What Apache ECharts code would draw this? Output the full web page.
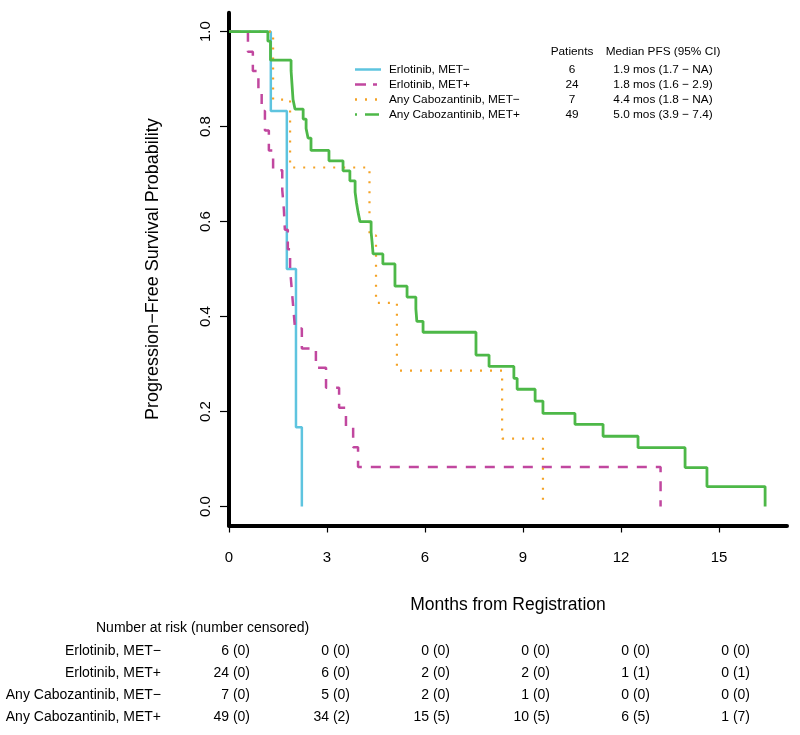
<!DOCTYPE html>
<html><head><meta charset="utf-8">
<script src="https://cdn.jsdelivr.net/npm/echarts@6/dist/echarts.min.js"></script>
<style>html,body{margin:0;padding:0;background:#fff}#c{width:800px;height:735px}</style>
</head><body><div id="c"></div>
<script>
// ---------- DATA ----------
const seriesNames = ['Erlotinib, MET\u2212', 'Erlotinib, MET+', 'Any Cabozantinib, MET\u2212', 'Any Cabozantinib, MET+'];
const patients = [6, 24, 7, 49];
const medianPFS = ['1.9 mos (1.7 \u2212 NA)', '1.8 mos (1.6 \u2212 2.9)', '4.4 mos (1.8 \u2212 NA)', '5.0 mos (3.9 \u2212 7.4)'];

const erlMinusT = [0, 1.28, 1.77, 2.05, 2.23];
const erlMinusS = [1, 0.833, 0.5, 0.167, 0];

const erlPlusT = [0, 0.58, 0.73, 0.9, 1.0, 1.1, 1.22, 1.35, 1.63, 1.68, 1.71, 1.80, 1.87, 1.92, 1.97, 2.02, 2.23, 2.66, 2.97, 3.37, 3.58, 3.80, 3.95, 13.21];
const erlPlusS = [1, 0.958, 0.917, 0.875, 0.833, 0.792, 0.75, 0.708, 0.667, 0.625, 0.583, 0.542, 0.5, 0.458, 0.417, 0.375, 0.333, 0.292, 0.25, 0.208, 0.167, 0.125, 0.083, 0];

const caboMinusT = [0, 1.35, 1.87, 4.30, 4.50, 5.14, 8.36, 9.61];
const caboMinusS = [1, 0.857, 0.714, 0.571, 0.429, 0.286, 0.143, 0];

const caboPlusT = [0, 1.19, 1.27, 1.90, 1.96, 2.02, 2.27, 2.36, 2.42, 2.51, 3.06, 3.49, 3.70, 3.86, 3.90, 3.95, 4.01, 4.35, 4.38, 4.41, 4.71, 5.08, 5.45, 5.72, 5.75, 5.94, 7.56, 7.96, 8.72, 8.82, 9.37, 9.61, 10.59, 11.45, 12.52, 13.96, 14.63, 16.41];
const caboPlusS = [1, 0.98, 0.94, 0.918, 0.857, 0.837, 0.816, 0.796, 0.776, 0.75, 0.728, 0.707, 0.686, 0.662, 0.641, 0.62, 0.6, 0.578, 0.557, 0.532, 0.511, 0.464, 0.441, 0.416, 0.39, 0.367, 0.319, 0.295, 0.27, 0.247, 0.222, 0.196, 0.173, 0.148, 0.124, 0.082, 0.042, 0];

const xTicks = [0, 3, 6, 9, 12, 15];
const yTicks = [0, 0.2, 0.4, 0.6, 0.8, 1.0];

const riskErlMinus = [6, 0, 0, 0, 0, 0];
const censErlMinus = [0, 0, 0, 0, 0, 0];
const riskErlPlus = [24, 6, 2, 2, 1, 0];
const censErlPlus = [0, 0, 0, 0, 1, 1];
const riskCaboMinus = [7, 5, 2, 1, 0, 0];
const censCaboMinus = [0, 0, 0, 0, 0, 0];
const riskCaboPlus = [49, 34, 15, 10, 6, 1];
const censCaboPlus = [0, 2, 5, 5, 5, 7];

// ---------- STYLE ----------
const FONT = '"Liberation Sans", Arial, Helvetica, sans-serif';
const colors = ['#5ec4df', '#c1479f', '#f4a226', '#4db848'];
const widths = [2.5, 2.5, 2.2, 2.8];
const dashes = ['solid', [10, 9], [2, 8], 'solid'];
const legendDashes = [null, [11, 7, 4, 100], [2, 8], [2, 8, 14, 100]];

const tList = [erlMinusT, erlPlusT, caboMinusT, caboPlusT];
const sList = [erlMinusS, erlPlusS, caboMinusS, caboPlusS];

const series = seriesNames.map((name, i) => ({
  name: name,
  type: 'line',
  step: 'end',
  showSymbol: false,
  symbol: 'none',
  animation: false,
  data: tList[i].map((t, j) => [t, sList[i][j]]),
  lineStyle: { color: colors[i], width: widths[i], type: dashes[i], cap: 'butt' },
  z: 2 + i
}));

function txt(x, y, text, size, align) {
  return { type: 'text', x: x, y: y, style: { text: text, font: size + 'px ' + FONT, fill: '#000', textAlign: align, align: align, textVerticalAlign: 'middle', verticalAlign: 'middle' } };
}

// legend block
const graphics = [];
const legRowY = [69.5, 84.5, 99.5, 114.5];
const legHeadY = 52;
const LF = 11.8;
graphics.push(txt(572, legHeadY, 'Patients', LF, 'center'));
graphics.push(txt(663, legHeadY, 'Median PFS (95% CI)', LF, 'center'));
seriesNames.forEach((name, i) => {
  const y = legRowY[i];
  const st = { stroke: colors[i], lineWidth: 2.5 };
  if (legendDashes[i]) st.lineDash = legendDashes[i];
  graphics.push({ type: 'line', shape: { x1: 355, y1: y, x2: 381, y2: y }, style: st });
  graphics.push(txt(389, y, name, LF, 'left'));
  graphics.push(txt(572, y, String(patients[i]), LF, 'center'));
  graphics.push(txt(663, y, medianPFS[i], LF, 'center'));
});

// number at risk table
const riskRows = [riskErlMinus, riskErlPlus, riskCaboMinus, riskCaboPlus];
const censRows = [censErlMinus, censErlPlus, censCaboMinus, censCaboPlus];
const tabRowY = [651, 673, 695, 717];
const tabColX = [250, 350, 450, 550, 650, 750];
const TF = 14;
graphics.push(txt(96, 628, 'Number at risk (number censored)', TF, 'left'));
seriesNames.forEach((name, i) => {
  graphics.push(txt(161, tabRowY[i], name, TF, 'right'));
  riskRows[i].forEach((n, k) => {
    graphics.push(txt(tabColX[k], tabRowY[i], n + ' (' + censRows[i][k] + ')', TF, 'right'));
  });
});

const chart = echarts.init(document.getElementById('c'), null, { renderer: 'canvas' });
chart.setOption({
  animation: false,
  backgroundColor: '#fff',
  grid: { left: 229, right: 13, top: 12.7, bottom: 209.5, containLabel: false },
  xAxis: {
    type: 'value', min: 0, max: 17.08,
    name: 'Months from Registration', nameLocation: 'middle', nameGap: 71,
    nameTextStyle: { fontFamily: FONT, fontSize: 17.5, color: '#000' },
    axisLine: { show: true, onZero: false, lineStyle: { color: '#000', width: 4 } },
    axisTick: { show: true, length: 7, customValues: xTicks, lineStyle: { color: '#000', width: 1.2 } },
    axisLabel: { customValues: xTicks, margin: 25, fontFamily: FONT, fontSize: 15, color: '#000' },
    splitLine: { show: false }
  },
  yAxis: {
    type: 'value', min: -0.04, max: 1.04,
    name: 'Progression\u2212Free Survival Probability', nameLocation: 'middle', nameGap: 67, nameRotate: 90,
    nameTextStyle: { fontFamily: FONT, fontSize: 18, color: '#000' },
    axisLine: { show: true, onZero: false, lineStyle: { color: '#000', width: 4 } },
    axisTick: { show: true, length: 9, customValues: yTicks, lineStyle: { color: '#000', width: 1.2 } },
    axisLabel: { customValues: yTicks, rotate: 90, margin: 16, fontFamily: FONT, fontSize: 15, color: '#000', formatter: v => v.toFixed(1) },
    splitLine: { show: false }
  },
  series: series,
  graphic: { elements: graphics }
});
</script>
</body></html>
